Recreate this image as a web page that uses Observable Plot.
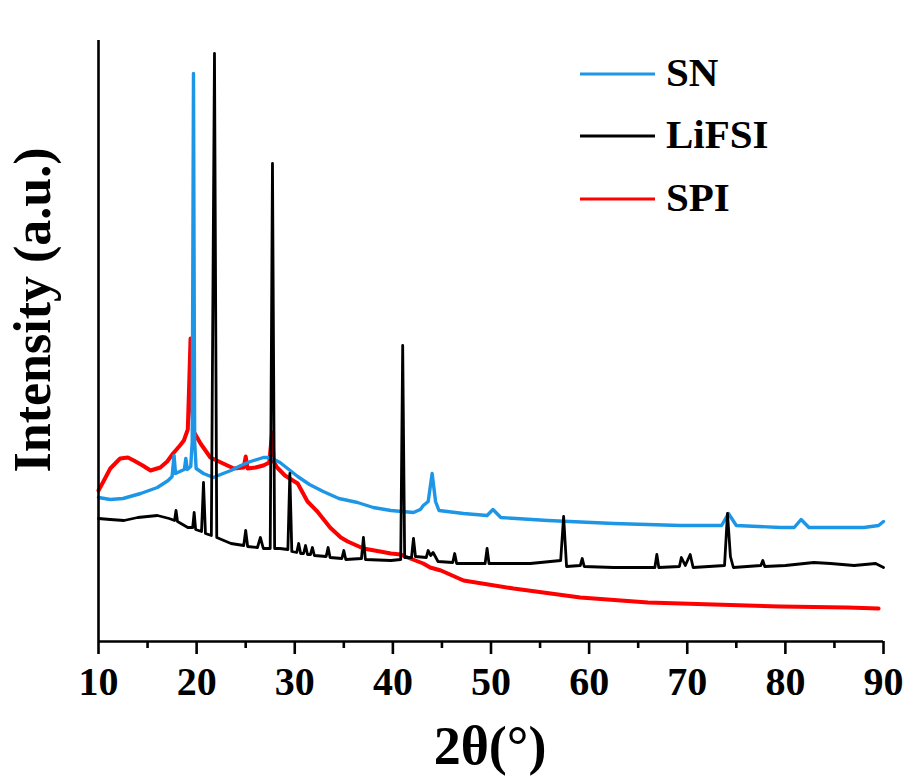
<!DOCTYPE html>
<html>
<head>
<meta charset="utf-8">
<script src="https://cdn.jsdelivr.net/npm/d3@7"></script>
<script src="https://cdn.jsdelivr.net/npm/@observablehq/plot@0.6"></script>
<style>
  html, body { margin: 0; padding: 0; background: #fff; }
  #chart { position: relative; width: 906px; height: 776px; }
  #chart svg text { font-family: "Liberation Serif", "Times New Roman", serif; font-weight: bold; }
</style>
</head>
<body>
<div id="chart"></div>
<script>
// ---- data (2θ in degrees, intensity in arbitrary units) ----
const seriesNames = ["SN", "LiFSI", "SPI"];
const seriesColors = ["#1e96e6", "#000000", "#ff0000"];
const seriesWidths = [3.4, 2.8, 4];
const majorTicks = [10, 20, 30, 40, 50, 60, 70, 80, 90];
const minorTicks = [15, 25, 35, 45, 55, 65, 75, 85];

const snPoints = [
  [10.0,144],[11.2,142],[12.5,143],[14.3,148],[16.0,154],[17.1,161],[17.5,165],[17.7,186],[17.85,168],
  [18.5,171],[18.75,172],[18.9,183],[19.05,172],[19.4,175],[19.55,200],[19.68,568],[19.8,200],[19.95,173],
  [20.7,168],[21.7,164],[22.7,168],[23.5,171],[24.5,176],[25.5,180],[26.8,184],[27.5,184],[28.5,179],
  [30.3,165],[31.5,157],[32.9,150],[34.5,143],[36.4,139],[38.0,134],[39.8,131],[42.1,129],[42.8,132],
  [43.1,136],[43.6,140],[44.0,168],[44.35,140],[44.7,131],[47.2,128],[49.6,126],[50.2,132],[51.0,124],
  [55.8,121],[62.5,118],[69.3,116],[73.5,116],[74.2,128],[75.0,116],[79.5,114],[80.9,114],[81.6,122],
  [82.4,114],[88.0,114],[89.5,116],[90.0,120]
];

const lifsiPoints = [
  [10.0,123],[11.2,122],[12.6,121],[14.0,124],[16.0,126],[17.2,123],[17.75,121],[17.9,131],[18.05,120],
  [19.1,114],[19.6,114],[19.75,129],[19.9,112],[20.5,110],[20.7,159],[20.9,108],[21.5,106],[21.82,588],
  [22.05,104],[23.5,98],[24.8,96],[25.0,111],[25.2,95],[26.2,94],[26.5,104],[26.8,93],[27.5,93],
  [27.73,478],[27.95,93],[28.5,93],[29.3,92],[29.5,168],[29.7,90],[30.2,89],[30.4,98],[30.6,88],
  [30.9,88],[31.1,96],[31.3,87],[31.6,87],[31.8,94],[32.0,86],[33.2,85],[33.4,94],[33.6,84],[34.8,83],
  [35.0,91],[35.2,82],[36.8,83],[37.0,104],[37.2,82],[39.8,81],[40.8,82],[41.0,296],[41.2,84],[41.9,84],
  [42.1,103],[42.3,85],[43.4,84],[43.6,91],[43.85,86],[44.1,89],[44.6,80],[46.1,79],[46.3,88],[46.5,78],
  [49.4,78],[49.6,93],[49.8,78],[54.0,78],[57.1,81],[57.4,125],[57.7,75],[59.1,76],[59.3,83],[59.5,75],
  [62.5,74],[66.7,74],[66.9,87],[67.1,74],[69.2,75],[69.4,84],[69.8,76],[70.3,87],[70.6,74],[73.8,76],
  [74.1,128],[74.4,85],[74.7,74],[77.5,76],[77.7,81],[77.9,75],[80.0,76],[82.9,79],[84.6,78],[87.0,76],
  [89.2,78],[90.0,74]
];

const spiPoints = [
  [10.0,151],[10.5,160],[11.2,173],[12.2,183],[13.0,184],[13.6,181],[14.5,176],[15.3,171],[16.3,174],
  [17.0,180],[17.6,188],[18.3,196],[18.7,201],[19.1,212],[19.25,260],[19.38,303],[19.5,240],[19.7,210],
  [20.4,198],[21.4,184],[22.7,178],[23.8,173],[24.8,174],[25.0,185],[25.2,173],[26.0,174],[26.8,176],
  [27.4,179],[27.7,209],[27.85,180],[28.2,174],[29.0,166],[30.3,158],[31.3,140],[32.3,130],[33.6,114],
  [34.7,104],[35.4,100],[37.0,93],[38.7,90],[39.8,88],[40.8,87],[41.5,84],[43.1,78],[43.8,74],[44.9,71],
  [47.2,61],[52.3,53],[59.1,44],[66.0,39],[72.7,37],[79.5,35],[86.3,34],[89.5,33]
];

const seriesPoints = [snPoints, lifsiPoints, spiPoints];

const lineMarks = [2, 0, 1].map(i =>
  Plot.line(seriesPoints[i].map(([x, y]) => ({x, y})), {
    x: "x", y: "y", stroke: seriesColors[i], strokeWidth: seriesWidths[i], strokeLinejoin: "round"
  })
);

const chart = Plot.plot({
  width: 906,
  height: 776,
  marginLeft: 98,
  marginRight: 23,
  marginTop: 40,
  marginBottom: 135,
  style: {fontFamily: "'Liberation Serif','Times New Roman',serif", background: "#fff", overflow: "visible"},
  x: {domain: [10, 90]},
  y: {domain: [0, 601], axis: null},
  marks: [
    ...lineMarks,
    Plot.ruleX([10], {stroke: "#000", strokeWidth: 2.6}),
    Plot.ruleY([0], {stroke: "#000", strokeWidth: 2.6}),
    Plot.axisX({ticks: majorTicks, tickSize: 13, tickPadding: 12, fontSize: 40, fontWeight: "bold",
      strokeWidth: 2.6, label: null, tickFormat: d => String(d)}),
    Plot.axisX({ticks: minorTicks, tickSize: 7, strokeWidth: 2.6, label: null, tickFormat: () => ""})
  ]
});

document.getElementById("chart").appendChild(chart);

const svg = d3.select(chart);
// axis titles
svg.append("text")
  .attr("x", 490).attr("y", 764)
  .attr("text-anchor", "middle")
  .attr("font-size", 54)
  .text("2θ(°)");
svg.append("text")
  .attr("transform", "translate(50,310) rotate(-90)")
  .attr("text-anchor", "middle")
  .attr("font-size", 52)
  .text("Intensity (a.u.)");

// legend
const legendY = [74, 136, 199];
seriesNames.forEach((name, i) => {
  svg.append("line")
    .attr("x1", 580).attr("x2", 655)
    .attr("y1", legendY[i]).attr("y2", legendY[i])
    .attr("stroke", seriesColors[i]).attr("stroke-width", 3);
  svg.append("text")
    .attr("x", 666).attr("y", legendY[i] + 12)
    .attr("text-anchor", "start")
    .attr("font-size", 41)
    .text(name);
});
</script>
</body>
</html>
